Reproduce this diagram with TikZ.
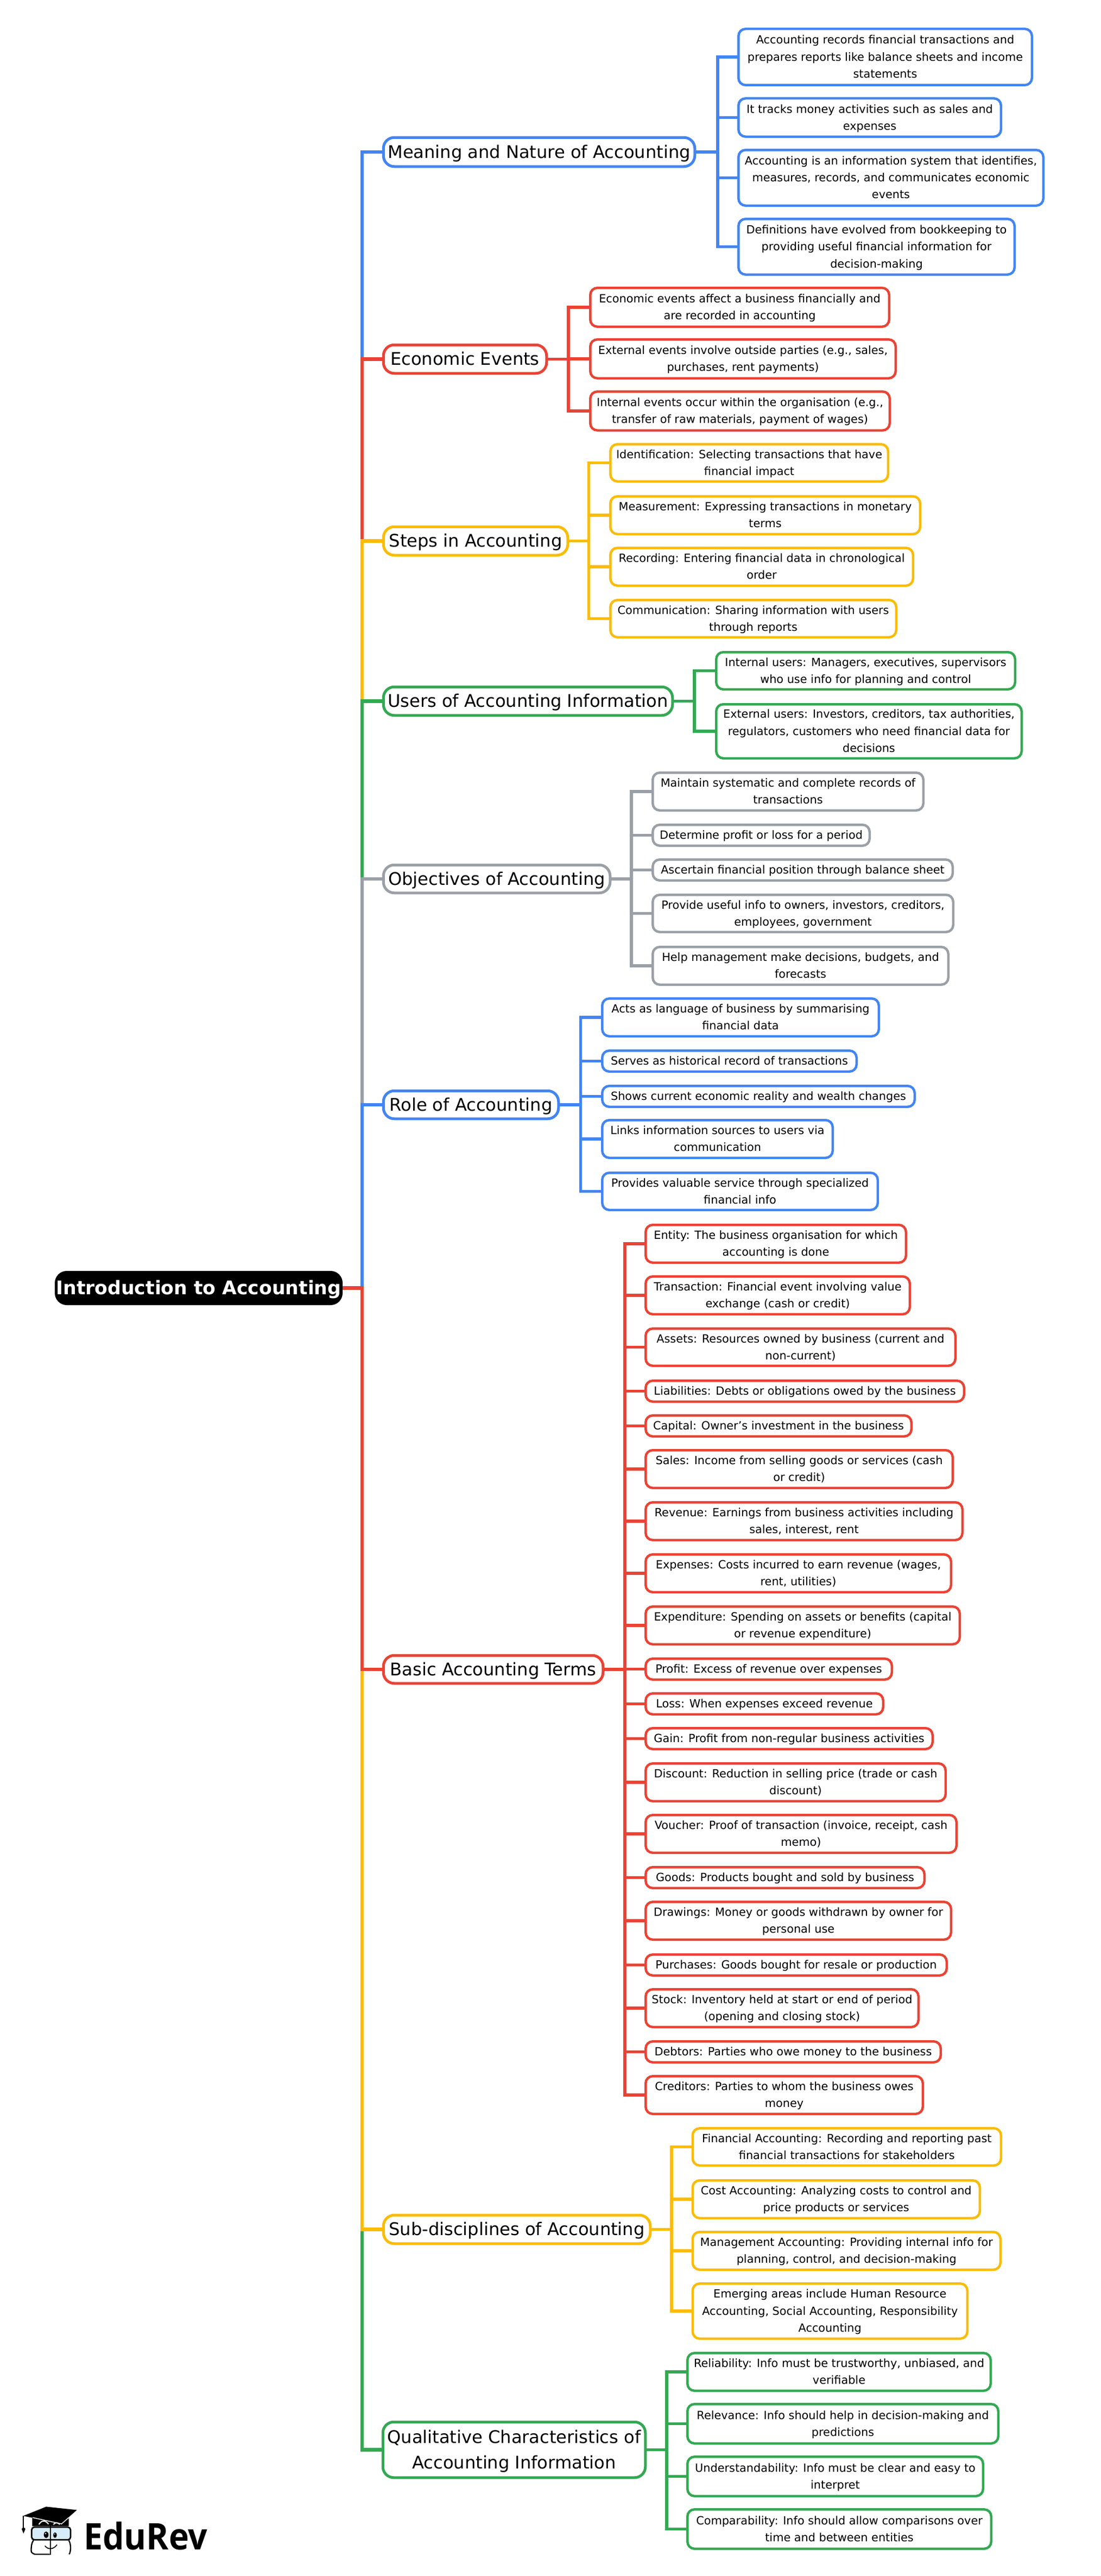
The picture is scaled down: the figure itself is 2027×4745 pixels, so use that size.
\documentclass[tikz,border=0pt]{standalone}
\usepackage{fontspec}
\setmainfont{DejaVu Sans}
\newfontfamily\logofont{Open Sans}
\definecolor{cblue}{HTML}{4285F4}
\definecolor{cred}{HTML}{EA4335}
\definecolor{cyel}{HTML}{FBBC04}
\definecolor{cgrn}{HTML}{34A853}
\definecolor{cgry}{HTML}{9AA0A6}
\definecolor{cglass}{HTML}{D6ECF8}
\tikzset{
  rootbox/.style={fill=black,text=white,rounded corners=22pt,inner sep=0pt,outer sep=0pt,align=center,font=\fontsize{34.6}{46}\selectfont\bfseries},
  mainbox/.style={draw=#1,fill=white,line width=5pt,rounded corners=20pt,inner sep=0pt,outer sep=0pt,align=center,text=black,font=\fontsize{32.1}{47}\selectfont},
  kidbox/.style={draw=#1,fill=white,line width=4.5pt,rounded corners=13pt,inner sep=0pt,outer sep=0pt,align=center,text=black,font=\fontsize{20.8}{31.3}\selectfont},
  trunk/.style={draw=#1,line width=6.5pt,line join=miter},
  twig/.style={draw=#1,line width=5.5pt,line join=miter},
}
\newcommand{\brw}{\rule[-0.236em]{0pt}{1.164em}}
\newcommand{\bxn}[7]{%
  \pgfmathsetmacro\cxx{(#3+#4)/2}\pgfmathsetmacro\cyy{(#5+#6)/2}%
  \pgfmathsetmacro\ww{#4-#3-4.5}\pgfmathsetmacro\hh{#6-#5-4.5}%
  \node[#1,minimum width=\ww pt,minimum height=\hh pt] (#2) at (\cxx,\cyy) {\brw #7\brw};}
\newcommand{\lnk}[4]{\draw[twig=#1] (#2.east) -- (#2.east -| #4) |- (#3.west);}
\newcommand{\trk}[2]{\draw[trunk=#1] (root.east) -- (root.east -| trunkx) |- (#2.west);}
\begin{document}
\begin{tikzpicture}[x=1pt,y=-1pt]
\fill[white] (0,0) rectangle (2027,4745);
\useasboundingbox (0,0) rectangle (2027,4745);
\coordinate (trunkx) at (667,0);
\coordinate (sm) at (1322,0);
\coordinate (se) at (1047,0);
\coordinate (ss) at (1084.5,0);
\coordinate (su) at (1279,0);
\coordinate (so) at (1163,0);
\coordinate (sr) at (1069.5,0);
\coordinate (sb) at (1151,0);
\coordinate (sd) at (1237,0);
\coordinate (sq) at (1228,0);

\node[rootbox,minimum width=530pt,minimum height=63pt] (root) at (366,2372.5) {\brw Introduction to Accounting\brw};

\bxn{mainbox=cblue}{m}{704}{1282}{251}{309}{Meaning and Nature of Accounting}
\bxn{kidbox=cblue}{m1}{1358}{1903}{51}{159}{Accounting records financial transactions and\\prepares reports like balance sheets and income\\statements}
\bxn{kidbox=cblue}{m2}{1358}{1846}{179}{254}{It tracks money activities such as sales and\\expenses}
\bxn{kidbox=cblue}{m3}{1358}{1924}{274}{381}{Accounting is an information system that identifies,\\measures, records, and communicates economic\\events}
\bxn{kidbox=cblue}{m4}{1358}{1871}{401}{508}{Definitions have evolved from bookkeeping to\\providing useful financial information for\\decision-making}

\bxn{mainbox=cred}{e}{704}{1009}{633}{690}{Economic Events}
\bxn{kidbox=cred}{e1}{1085}{1640}{528}{604}{Economic events affect a business financially and\\are recorded in accounting}
\bxn{kidbox=cred}{e2}{1085}{1652}{623}{699}{External events involve outside parties (e.g., sales,\\purchases, rent payments)}
\bxn{kidbox=cred}{e3}{1085}{1641}{719}{795}{Internal events occur within the organisation (e.g.,\\transfer of raw materials, payment of wages)}

\bxn{mainbox=cyel}{s}{704}{1048}{968}{1025}{Steps in Accounting}
\bxn{kidbox=cyel}{s1}{1122}{1638}{816}{889}{Identification: Selecting transactions that have\\financial impact}
\bxn{kidbox=cyel}{s2}{1122}{1697}{912}{986}{Measurement: Expressing transactions in monetary\\terms}
\bxn{kidbox=cyel}{s3}{1122}{1684}{1007}{1081}{Recording: Entering financial data in chronological\\order}
\bxn{kidbox=cyel}{s4}{1122}{1653}{1103}{1176}{Communication: Sharing information with users\\through reports}

\bxn{mainbox=cgrn}{u}{704}{1241}{1263}{1320}{Users of Accounting Information}
\bxn{kidbox=cgrn}{u1}{1317}{1872}{1199}{1272}{Internal users: Managers, executives, supervisors\\who use info for planning and control}
\bxn{kidbox=cgrn}{u2}{1317}{1884}{1295}{1399}{External users: Investors, creditors, tax authorities,\\regulators, customers who need financial data for\\decisions}

\bxn{mainbox=cgry}{o}{704}{1126}{1591}{1647}{Objectives of Accounting}
\bxn{kidbox=cgry}{o1}{1200}{1703}{1421}{1495}{Maintain systematic and complete records of\\transactions}
\bxn{kidbox=cgry}{o2}{1200}{1604}{1517}{1560}{Determine profit or loss for a period}
\bxn{kidbox=cgry}{o3}{1200}{1757}{1581}{1624}{Ascertain financial position through balance sheet}
\bxn{kidbox=cgry}{o4}{1200}{1758}{1646}{1719}{Provide useful info to owners, investors, creditors,\\employees, government}
\bxn{kidbox=cgry}{o5}{1200}{1749}{1742}{1816}{Help management make decisions, budgets, and\\forecasts}

\bxn{mainbox=cblue}{r}{704}{1031}{2007}{2063}{Role of Accounting}
\bxn{kidbox=cblue}{r1}{1107}{1621}{1837}{1911}{Acts as language of business by summarising\\financial data}
\bxn{kidbox=cblue}{r2}{1107}{1580}{1933}{1976}{Serves as historical record of transactions}
\bxn{kidbox=cblue}{r3}{1107}{1687}{1998}{2041}{Shows current economic reality and wealth changes}
\bxn{kidbox=cblue}{r4}{1107}{1536}{2061}{2135}{Links information sources to users via\\communication}
\bxn{kidbox=cblue}{r5}{1107}{1619}{2158}{2231}{Provides valuable service through specialized\\financial info}

\bxn{mainbox=cred}{b}{704}{1113}{3047}{3103}{Basic Accounting Terms}
\bxn{kidbox=cred}{b1}{1187}{1671}{2254}{2328}{Entity: The business organisation for which\\accounting is done}
\bxn{kidbox=cred}{b2}{1187}{1678}{2349}{2423}{Transaction: Financial event involving value\\exchange (cash or credit)}
\bxn{kidbox=cred}{b3}{1187}{1762}{2445}{2518}{Assets: Resources owned by business (current and\\non-current)}
\bxn{kidbox=cred}{b4}{1187}{1778}{2541}{2584}{Liabilities: Debts or obligations owed by the business}
\bxn{kidbox=cred}{b5}{1187}{1681}{2605}{2648}{Capital: Owner’s investment in the business}
\bxn{kidbox=cred}{b6}{1187}{1757}{2669}{2743}{Sales: Income from selling goods or services (cash\\or credit)}
\bxn{kidbox=cred}{b7}{1187}{1775}{2765}{2839}{Revenue: Earnings from business activities including\\sales, interest, rent}
\bxn{kidbox=cred}{b8}{1187}{1754}{2861}{2935}{Expenses: Costs incurred to earn revenue (wages,\\rent, utilities)}
\bxn{kidbox=cred}{b9}{1187}{1770}{2957}{3031}{Expenditure: Spending on assets or benefits (capital\\or revenue expenditure)}
\bxn{kidbox=cred}{b10}{1187}{1645}{3053}{3096}{Profit: Excess of revenue over expenses}
\bxn{kidbox=cred}{b11}{1187}{1629}{3117}{3160}{Loss: When expenses exceed revenue}
\bxn{kidbox=cred}{b12}{1187}{1720}{3181}{3224}{Gain: Profit from non-regular business activities}
\bxn{kidbox=cred}{b13}{1187}{1744}{3246}{3320}{Discount: Reduction in selling price (trade or cash\\discount)}
\bxn{kidbox=cred}{b14}{1187}{1764}{3341}{3415}{Voucher: Proof of transaction (invoice, receipt, cash\\memo)}
\bxn{kidbox=cred}{b15}{1187}{1705}{3437}{3480}{Goods: Products bought and sold by business}
\bxn{kidbox=cred}{b16}{1187}{1754}{3501}{3575}{Drawings: Money or goods withdrawn by owner for\\personal use}
\bxn{kidbox=cred}{b17}{1187}{1746}{3598}{3641}{Purchases: Goods bought for resale or production}
\bxn{kidbox=cred}{b18}{1187}{1694}{3662}{3736}{Stock: Inventory held at start or end of period\\(opening and closing stock)}
\bxn{kidbox=cred}{b19}{1187}{1735}{3758}{3801}{Debtors: Parties who owe money to the business}
\bxn{kidbox=cred}{b20}{1187}{1702}{3822}{3896}{Creditors: Parties to whom the business owes\\money}

\bxn{mainbox=cyel}{d}{704}{1200}{4078}{4135}{Sub-disciplines of Accounting}
\bxn{kidbox=cyel}{d1}{1273.5}{1846}{3918}{3991}{Financial Accounting: Recording and reporting past\\financial transactions for stakeholders}
\bxn{kidbox=cyel}{d2}{1273.5}{1807}{4014}{4088}{Cost Accounting: Analyzing costs to control and\\price products or services}
\bxn{kidbox=cyel}{d3}{1273.5}{1845}{4109}{4183}{Management Accounting: Providing internal info for\\planning, control, and decision-making}
\bxn{kidbox=cyel}{d4}{1273.5}{1784}{4204}{4310}{Emerging areas include Human Resource\\Accounting, Social Accounting, Responsibility\\Accounting}

\bxn{mainbox=cgrn}{q}{703}{1191}{4459}{4566}{Qualitative Characteristics of\\Accounting Information}
\bxn{kidbox=cgrn}{q1}{1264}{1827}{4332}{4406}{Reliability: Info must be trustworthy, unbiased, and\\verifiable}
\bxn{kidbox=cgrn}{q2}{1264}{1841}{4426}{4503}{Relevance: Info should help in decision-making and\\predictions}
\bxn{kidbox=cgrn}{q3}{1264}{1813}{4523}{4600}{Understandability: Info must be clear and easy to\\interpret}
\bxn{kidbox=cgrn}{q4}{1264}{1828}{4620}{4697}{Comparability: Info should allow comparisons over\\time and between entities}

\trk{cblue}{m}\trk{cred}{e}\trk{cyel}{s}\trk{cgrn}{u}\trk{cgry}{o}\trk{cblue}{r}
\trk{cgrn}{q}\trk{cyel}{d}\trk{cred}{b}
\lnk{cblue}{m}{m1}{sm}\lnk{cblue}{m}{m2}{sm}\lnk{cblue}{m}{m3}{sm}\lnk{cblue}{m}{m4}{sm}
\lnk{cred}{e}{e1}{se}\lnk{cred}{e}{e2}{se}\lnk{cred}{e}{e3}{se}
\lnk{cyel}{s}{s1}{ss}\lnk{cyel}{s}{s2}{ss}\lnk{cyel}{s}{s3}{ss}\lnk{cyel}{s}{s4}{ss}
\lnk{cgrn}{u}{u1}{su}\lnk{cgrn}{u}{u2}{su}
\lnk{cgry}{o}{o1}{so}\lnk{cgry}{o}{o2}{so}\lnk{cgry}{o}{o3}{so}\lnk{cgry}{o}{o4}{so}\lnk{cgry}{o}{o5}{so}
\lnk{cblue}{r}{r1}{sr}\lnk{cblue}{r}{r2}{sr}\lnk{cblue}{r}{r3}{sr}\lnk{cblue}{r}{r4}{sr}\lnk{cblue}{r}{r5}{sr}
\foreach \k in {1,...,20}{\lnk{cred}{b}{b\k}{sb}}
\lnk{cyel}{d}{d1}{sd}\lnk{cyel}{d}{d2}{sd}\lnk{cyel}{d}{d3}{sd}\lnk{cyel}{d}{d4}{sd}
\lnk{cgrn}{q}{q1}{sq}\lnk{cgrn}{q}{q2}{sq}\lnk{cgrn}{q}{q3}{sq}\lnk{cgrn}{q}{q4}{sq}

% EduRev logo
\node[anchor=base west,inner sep=0pt,yscale=1.08,transform shape,font=\fontsize{62.5}{62.5}\selectfont\logofont\bfseries] (logotext) at (154,4696) {EduRev};
\begin{scope}[shift={(30,4600)},scale=0.3333]
  \fill[black] (88,112) -- (290,115) -- (290,160) -- (88,160) -- cycle;
  \fill[black] (38,103) -- (165,52) -- (335,70) -- (250,145) -- cycle;
  \draw[white,line width=1.4pt] (90,112) -- (250,147) -- (290,112);
  \draw[white,line width=2pt] (125,150) .. controls (140,125) and (160,125) .. (178,148);
  \draw[white,line width=2pt] (205,150) .. controls (215,138) and (230,138) .. (240,150);
  \draw[black,line width=1.7pt] (40,103) -- (40,168);
  \fill[black] (30,175) .. controls (33,165) and (47,165) .. (50,175) -- (40,200) -- cycle;
  \draw[black,line width=2.7pt,fill=cglass,rounded corners=5pt] (85,165) rectangle (300,235);
  \draw[black,line width=2.3pt,rounded corners=5pt] (95,238) .. controls (80,255) and (82,300) .. (92,315) -- (185,315);
  \draw[black,line width=2.3pt] (290,238) .. controls (303,255) and (303,300) .. (292,315);
  \draw[black,line width=2.3pt] (190,150) -- (190,318);
  \fill[black] (165,207) ellipse [x radius=13,y radius=18];
  \fill[black] (214,209) ellipse [x radius=10,y radius=15];
  \fill[white] (162,200) circle (4);
  \fill[white] (212,203) circle (3);
  \draw[black,line width=1.7pt] (158,268) .. controls (175,290) and (205,290) .. (225,262);
\end{scope}
\end{tikzpicture}
\end{document}
